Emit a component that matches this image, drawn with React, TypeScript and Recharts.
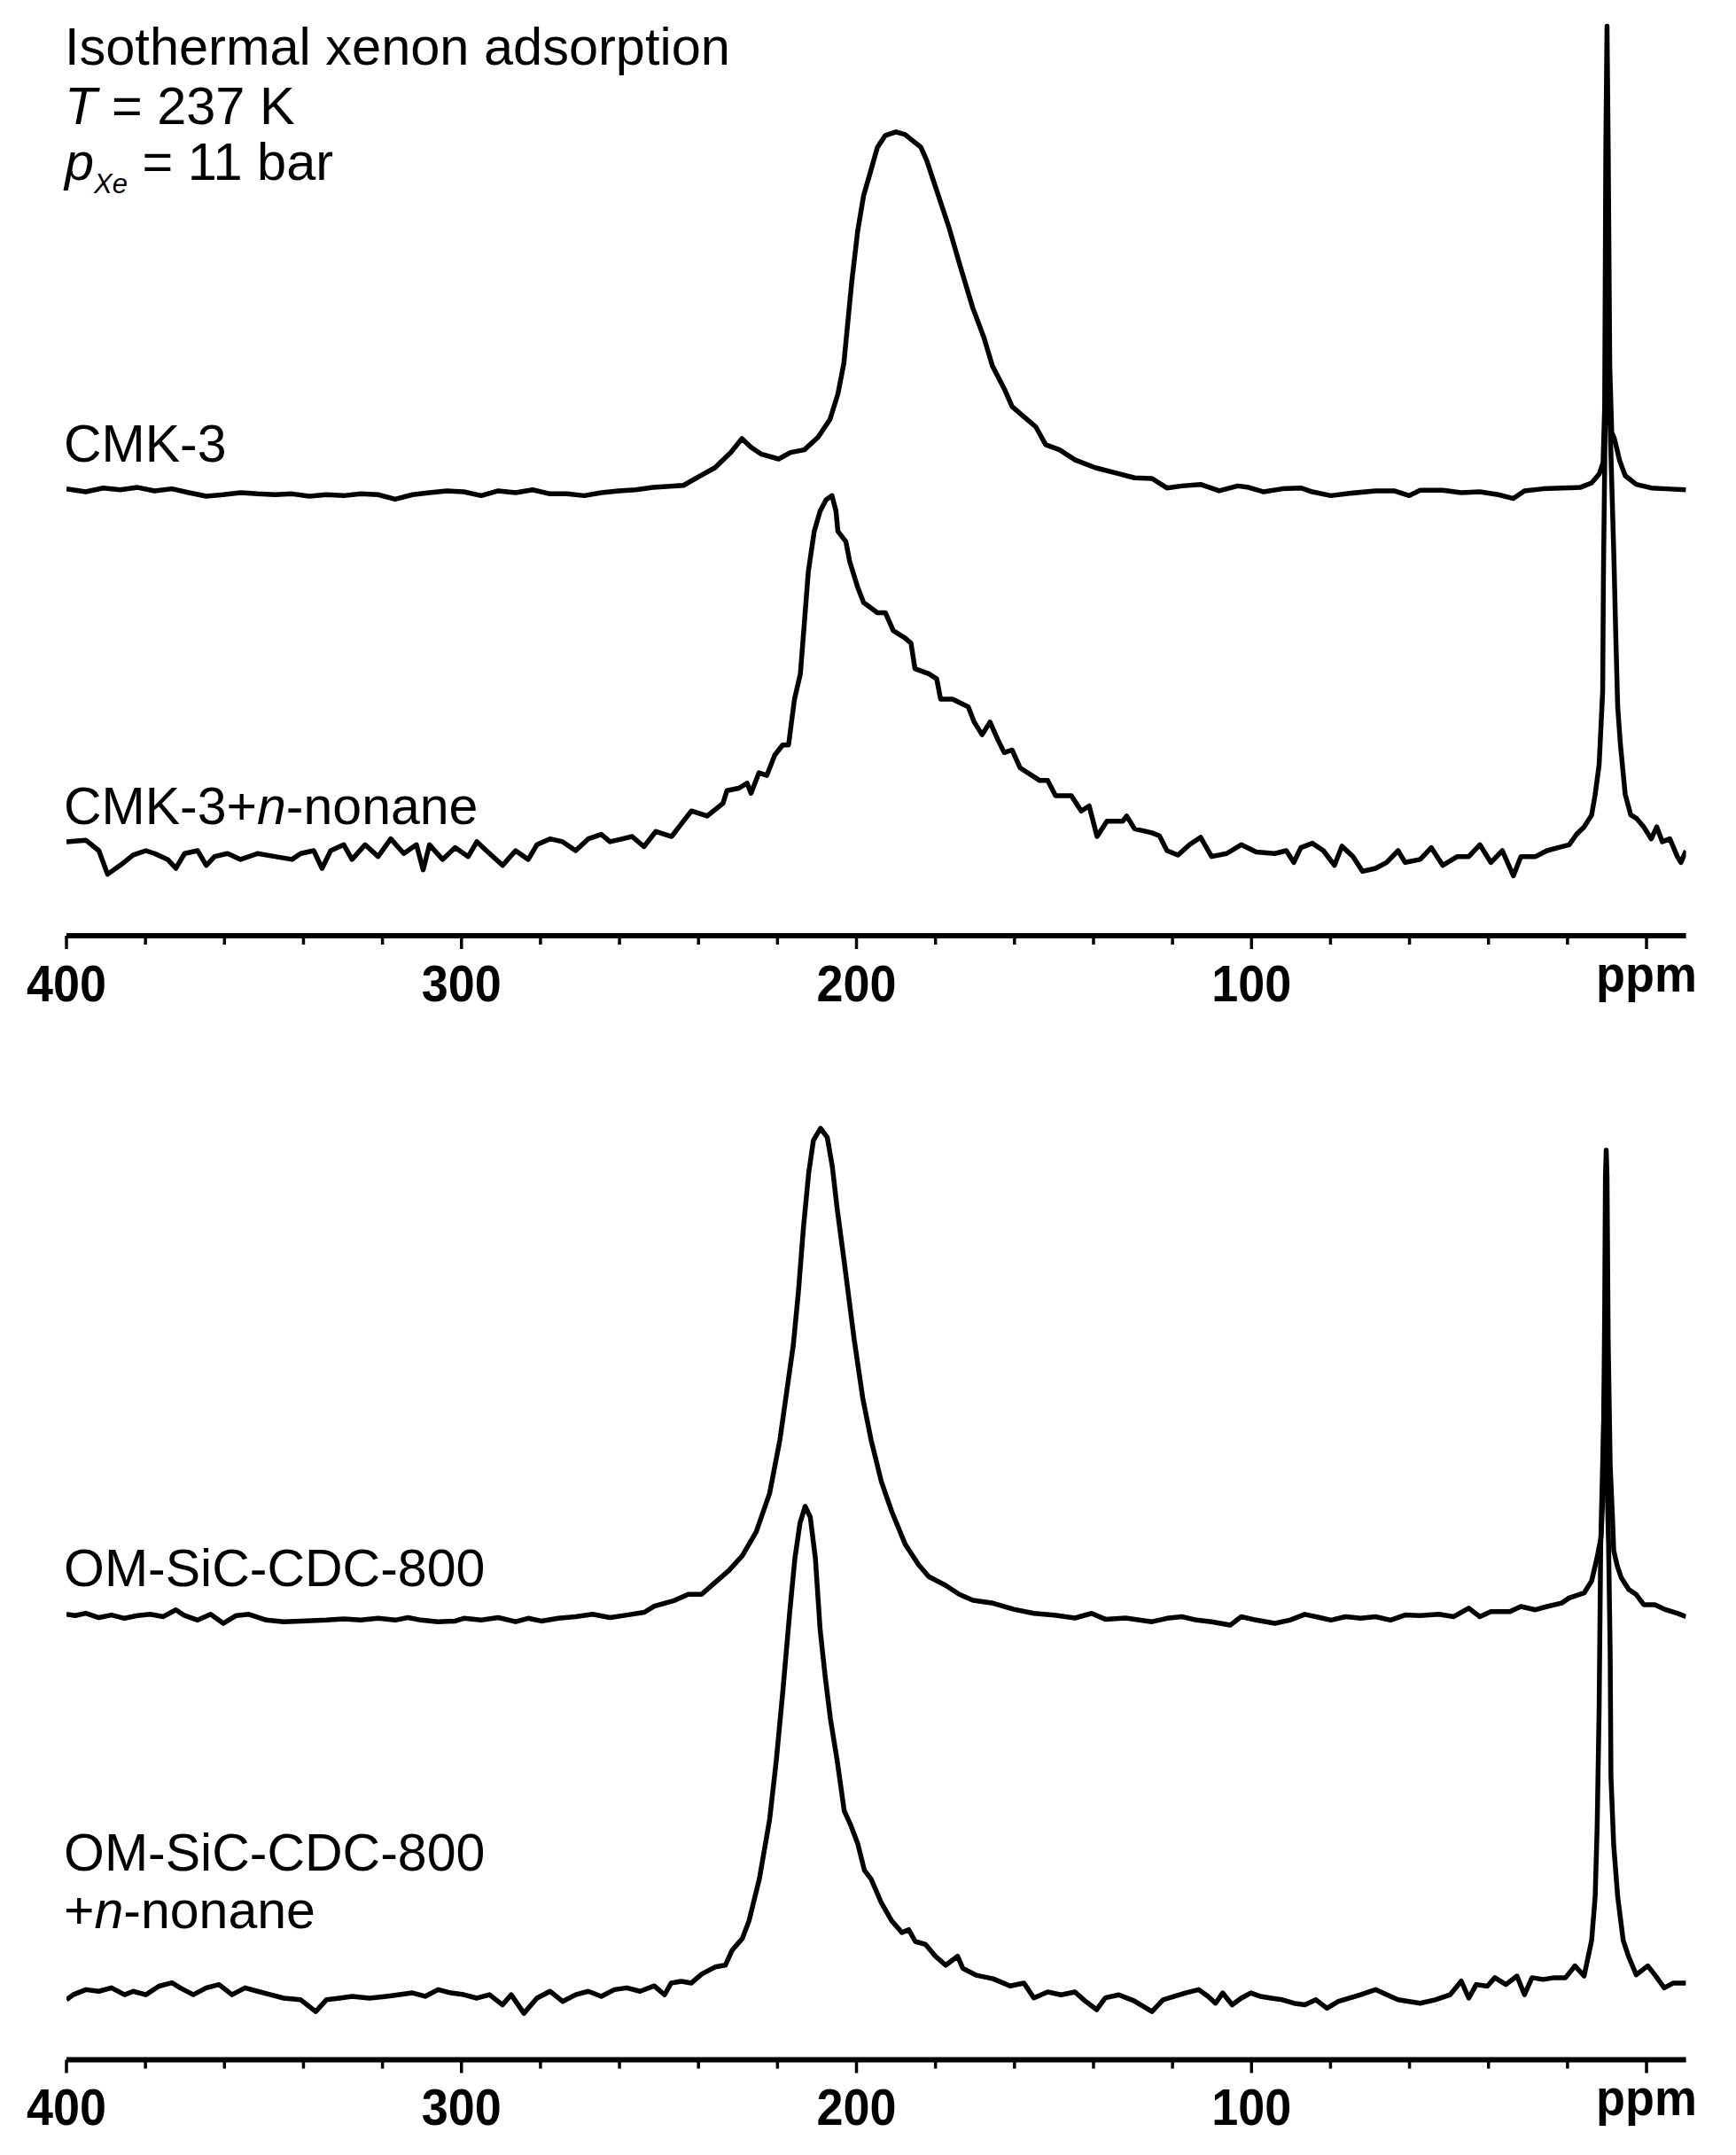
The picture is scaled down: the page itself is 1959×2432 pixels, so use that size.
import React from "react";
import { LineChart, Line, XAxis, YAxis } from "recharts";

// chemical shift (ppm) and intensity above each trace's own baseline
const CMK3: [number, number][] = [
  [400, 0.9], [395.1, -1.3], [390.7, 1.5], [386.4, 0.2], [382.0, 1.9], [377.7, -0.6], [373.3, 0.9], [369.0, -1.9],
  [364.6, -4.5], [360.3, -3.4], [355.9, -1.9], [351.6, -2.8], [347.2, -3.4], [342.9, -2.8], [338.5, -4.5], [334.2, -3.4],
  [329.8, -4.1], [325.5, -2.8], [321.1, -3.4], [316.8, -6.7], [312.4, -3.4], [308.1, -1.9], [303.7, -0.6], [299.4, -1.3],
  [295.0, -4.1], [290.7, -0.6], [286.3, -1.9], [282.0, 0.2], [277.6, -2.8], [273.3, -2.8], [268.9, -4.1], [264.6, -1.9],
  [260.2, -0.6], [255.9, 0.2], [251.5, 1.9], [243.8, 3.4], [239.8, 10.0], [235.8, 16.3], [231.8, 27.4], [229.0, 37.5],
  [226.7, 31.2], [224.2, 26.3], [219.7, 22.6], [216.7, 27.4], [213.2, 29.3], [209.7, 38.6], [206.7, 51.5], [204.7, 70.1],
  [203.2, 92.3], [202.2, 122.0], [201.2, 151.6], [199.7, 188.7], [198.2, 214.6], [196.7, 229.5], [194.7, 249.8],
  [192.7, 258.4], [190.0, 261.0], [187.7, 259.1], [183.7, 249.8], [182.2, 240], [179.7, 218.3], [176.7, 192.4],
  [173.7, 162.7], [170.6, 133.1], [167.7, 110.8], [165.6, 90.5], [162.6, 73.8], [160.6, 60.8], [157.6, 53.4],
  [154.6, 46.0], [152.1, 33.0], [148.6, 29.3], [144.6, 21.9], [139.6, 16.3], [133.6, 11.9], [129.6, 8.9],
  [125.2, 8.4], [121.4, 1.5], [117.6, 3.0], [112.9, 4.1], [108.2, -0.6], [103.5, 3.0], [100.7, 1.9], [96.9, -1.3],
  [92.2, 0.9], [87.5, 1.5], [84.6, -1.3], [79.9, -4.1], [75.2, -2.4], [68.6, -0.6], [63.9, -0.6], [60.1, -4.1],
  [57.3, -0.2], [51.6, -0.2], [46.9, -1.9], [42.2, -1.3], [37.5, -3.4], [33.7, -6.2], [30.9, -0.6], [26.2, 0.9],
  [21.5, 1.5], [16.8, 1.9], [13.9, 5.2], [12.0, 11.6], [11.0, 20], [10.6, 60], [10.3, 250], [10.0, 338], [9.7, 250],
  [9.3, 90], [8.8, 42], [8.2, 38], [7.5, 30], [6.8, 21.3], [5.4, 10.5], [2.6, 4.1], [-1.2, 1.5], [-4.9, 0.9], [-10, 0.2],
];

const CMK3_NONANE: [number, number][] = [
  [400, 8.4], [395.1, 9.5], [391.8, 1.9], [389.6, -15.3], [386.4, -8.8], [383.1, -1.3], [379.9, 1.9], [377.7, -0.2],
  [374.4, -4.5], [372.3, -11.0], [370.1, -0.2], [366.8, 1.9], [364.6, -8.8], [362.5, -2.4], [359.2, -0.2], [355.9, -4.5],
  [351.6, -0.2], [347.2, -2.4], [342.9, -4.5], [340.7, -0.2], [337.4, 1.9], [335.3, -11.0], [333.1, 1.9], [329.8, 6.2],
  [327.7, -4.5], [324.4, 6.2], [321.1, -2.4], [317.9, 10.5], [314.6, -0.2], [311.4, 6.2], [309.7, -12.1], [308.1, 6.2],
  [304.8, -4.5], [301.6, 4.1], [298.3, -2.4], [296.1, 8.4], [292.9, -0.2], [289.6, -8.8], [286.3, 1.9], [283.1, -4.5],
  [280.9, 6.2], [277.6, 10.5], [274.4, 8.4], [271.1, 1.9], [267.9, 10.5], [264.6, 13.8], [262.4, 8.4], [259.2, 10.5],
  [256.8, 12.2], [253.8, 4.8], [250.8, 15.9], [246.8, 12.2], [243.8, 23.4], [241.8, 30.8], [237.8, 27.1], [233.8, 36.3],
  [232.8, 45.6], [229.8, 47.4], [227.7, 51.1], [226.7, 43.7], [224.7, 58.6], [222.7, 56.7], [220.7, 71.5], [218.7, 78.9],
  [217.2, 78.9], [215.7, 112.3], [214.2, 130.8], [213.2, 167.9], [212.2, 205.0], [210.7, 234.6], [209.2, 249.4],
  [207.7, 257.6], [206.2, 260.6], [205.2, 249.4], [204.7, 234.6], [202.7, 227.2], [201.7, 212.4], [199.7, 193.8],
  [198.2, 182.7], [194.7, 175.3], [192.7, 175.3], [190.7, 162.3], [187.7, 156.8], [186.2, 153.1], [185.2, 134.5],
  [181.7, 130.8], [179.7, 127.1], [178.7, 112.3], [175.7, 112.3], [171.7, 106.7], [170.2, 95.6], [168.2, 86.4],
  [166.2, 95.6], [164.2, 82.7], [162.6, 73.4], [160.6, 75.2], [158.6, 62.3], [153.6, 53.0], [151.6, 53.0], [149.6, 41.9],
  [145.6, 41.9], [143.1, 30.8], [141.1, 34.5], [139.1, 12.2], [136.6, 23.4], [132.6, 23.4], [131.6, 27.1], [129.6, 17.8],
  [125.2, 14.9], [123.3, 12.7], [121.4, 1.9], [118.6, -1.3], [115.7, 6.2], [112.9, 11.6], [110.1, -2.4], [106.3, -0.2],
  [102.6, 6.2], [98.8, 0.9], [94.1, -0.2], [91.2, 1.9], [89.3, -6.7], [87.5, 4.1], [84.6, 7.3], [81.8, 1.9], [79.0, -8.8],
  [77.1, 5.2], [74.3, -2.4], [71.9, -13.1], [68.6, -11.0], [65.8, -6.7], [62.9, 1.9], [61.1, -6.7], [57.3, -4.5],
  [54.5, 4.1], [51.6, -8.8], [47.9, -2.4], [45.0, -2.4], [42.2, 6.2], [39.4, -6.7], [36.5, 1.9], [33.7, -16.4],
  [31.8, -2.4], [28.1, -2.4], [25.2, 1.9], [22.4, 4.1], [19.6, 6.2], [17.7, 13.8], [15.8, 19.2], [13.9, 27.8],
  [13.0, 42.8], [12.0, 64.4], [11.1, 118], [10.9, 204], [10.4, 330], [9.9, 400], [9.3, 320], [8.25, 215], [7.8, 161],
  [7.3, 107], [6.6, 79], [5.4, 43], [4.0, 28], [2.6, 25.6], [0.7, 19.2], [-1.2, 10.5], [-2.6, 19.2], [-4.0, 8.4],
  [-5.9, 10.5], [-7.8, -2.4], [-8.7, -6.7], [-10, 1.9],
];

const OM_CDC: [number, number][] = [
  [400, 0.8], [397.8, -0.1], [395.1, 1.6], [391.8, -1.6], [388.6, 0.3], [385.3, -2.1], [382.0, -0.1], [378.8, 0.8],
  [375.5, -0.9], [372.3, 4.1], [370.1, -0.1], [366.8, -3.4], [363.5, 0.8], [360.3, -5.8], [357.0, -0.1], [353.8, 0.8],
  [349.4, -3.4], [345.0, -4.6], [340.7, -4.1], [334.2, -3.4], [329.8, -2.6], [325.5, -3.4], [321.1, -2.1], [316.8, -3.4],
  [313.5, -1.6], [310.3, -3.4], [305.9, -4.6], [301.6, -4.1], [299.4, -2.1], [295.0, -3.4], [290.7, -1.6], [286.3, -4.6],
  [283.1, -2.1], [279.8, -4.1], [275.5, -2.1], [271.1, -0.9], [266.8, 0.8], [262.4, -1.6], [258.1, 0.3], [253.7, 2.3],
  [251.2, 6.7], [246.0, 11.0], [242.6, 15.4], [239.2, 15.4], [235.8, 24.0], [232.3, 32.7], [228.9, 43.5], [225.4, 60.8],
  [222.0, 88.9], [219.4, 127.8], [217.7, 162.4], [216.0, 197.0], [214.7, 235.9], [213.4, 283.5], [212.1, 322.4],
  [210.9, 346.2], [209.1, 354.9], [207.4, 348.4], [206.1, 326.8], [204.9, 296.5], [203.1, 257.6], [200.6, 201.4],
  [198.4, 158.1], [196.3, 127.8], [193.7, 97.5], [191.1, 75.9], [187.7, 52.1], [184.3, 37.0], [181.7, 28.3],
  [177.4, 21.8], [174.0, 15.4], [170.5, 11.0], [165.4, 8.9], [160.2, 4.5], [155.1, 1.5], [149.9, 0.2], [144.7, -1.9],
  [140.5, 1.5], [137.0, -2.8], [131.9, -1.9], [125.2, -4.6], [121.4, -2.1], [117.6, -0.9], [113.9, -3.4], [110.1, -4.6],
  [105.4, -7.1], [102.6, -0.9], [98.8, -3.4], [94.1, -5.8], [90.3, -3.4], [86.5, 0.8], [82.7, -1.6], [79.9, -3.4],
  [76.2, -0.9], [72.4, -2.1], [68.6, -0.9], [64.8, -3.4], [61.1, 0.3], [57.3, -0.1], [52.6, 0.8], [48.8, -0.9],
  [45.0, 5.3], [42.2, -0.9], [39.4, 2.8], [34.6, 2.8], [31.8, 6.5], [28.1, 4.1], [25.2, 6.5], [21.5, 9.0], [19.6, 12.7],
  [15.8, 16.4], [13.9, 25.0], [12.5, 42.4], [11.5, 57.2], [11.0, 90], [10.6, 220], [10.4, 320], [10.2, 339],
  [10.0, 320], [9.7, 200], [9.2, 110], [8.6, 70], [8.3, 47.3], [7.4, 36], [6.4, 27.5], [4.5, 18.9], [2.6, 15.2],
  [0.7, 7.8], [-2.1, 7.8], [-4.9, 4.1], [-7.8, 1.6], [-10, -0.9],
];

const OM_CDC_NONANE: [number, number][] = [
  [400, -1.2], [398.3, 2.5], [395.1, 6.2], [391.8, 5.0], [388.6, 7.5], [385.3, 2.5], [383.1, 5.0], [379.9, 2.5],
  [376.6, 8.7], [373.3, 11.2], [371.2, 7.5], [367.9, 2.5], [364.6, 7.5], [361.4, 9.9], [358.1, 2.5], [354.8, 7.5],
  [351.6, 5.0], [348.3, 2.5], [345.0, 0.0], [340.7, -1.2], [336.9, -9.8], [334.2, -1.2], [330.9, 0.0], [327.7, 1.3],
  [323.3, 0.0], [319.0, 1.3], [315.7, 2.5], [312.4, 3.8], [309.2, 1.3], [305.9, 6.2], [302.7, 3.8], [299.4, 2.5],
  [296.1, 0.0], [292.9, 2.5], [289.6, -4.9], [287.4, 2.5], [284.2, -11.1], [280.9, 0.0], [277.6, 5.0], [274.4, -2.4],
  [271.1, 2.5], [267.9, 5.0], [264.6, 1.3], [261.3, 6.2], [258.1, 7.5], [254.8, 5.0], [251.2, 8.9], [248.6, 2.4],
  [246.9, 11.0], [244.3, 12.3], [241.8, 11.0], [239.2, 17.5], [235.8, 22.7], [233.2, 24.0], [231.5, 34.8],
  [228.9, 43.5], [227.2, 56.4], [224.6, 86.7], [222.0, 130.0], [220.3, 173.3], [218.6, 225.1], [216.9, 281.4],
  [215.6, 320.3], [214.3, 346.2], [213.0, 358.4], [211.7, 350.6], [210.4, 320.3], [209.2, 268.4], [207.9, 233.8],
  [206.6, 203.5], [204.9, 173.3], [203.1, 136.5], [201.4, 125.6], [199.7, 112.7], [198.0, 93.2], [196.3, 86.7],
  [193.7, 69.4], [191.1, 56.4], [188.5, 47.8], [186.8, 49.9], [185.1, 41.3], [182.5, 39.1], [180.0, 30.5],
  [177.4, 24.0], [174.4, 30.5], [173.1, 21.8], [169.7, 16.7], [165.4, 14.1], [161.1, 8.9], [157.6, 11.0],
  [155.1, 0.2], [151.6, 4.5], [148.2, 2.4], [144.7, 4.5], [142.2, -1.9], [139.2, -8.4], [137.0, 0.2], [133.6, 2.4],
  [129.8, -1.9], [125.2, -9.8], [122.4, -1.2], [119.5, 1.3], [116.7, 3.8], [113.4, 6.2], [111.0, 1.3], [109.1, -3.7],
  [107.3, 3.8], [104.9, -4.9], [102.6, 0.0], [100.2, 3.8], [97.8, 1.3], [95.0, 0.0], [92.2, -1.2], [89.3, -3.7],
  [86.5, -4.9], [83.7, -1.2], [80.9, -7.4], [78.0, -2.4], [75.2, 0.0], [72.4, 2.5], [68.6, 6.2], [65.8, 2.5],
  [62.9, -1.2], [60.1, -2.4], [57.3, -3.7], [53.5, -1.2], [49.7, 2.5], [46.9, 12.4], [45.0, 0.0], [43.1, 9.9],
  [40.3, 8.7], [38.4, 14.9], [35.6, 9.9], [32.8, 16.1], [30.9, 2.5], [29.0, 14.9], [26.2, 13.6], [23.3, 14.9],
  [20.5, 14.9], [18.1, 23.5], [15.8, 16.1], [13.9, 42], [13.0, 74], [12.5, 124], [12.0, 210], [11.6, 330],
  [10.6, 450], [9.6, 330], [9.2, 252], [9.0, 161], [8.3, 111], [7.3, 74], [5.9, 42], [4.5, 30], [2.6, 17],
  [-0.3, 23.5], [-2.1, 17], [-4.5, 7.5], [-6.8, 11], [-10, 11],
];

// vertical stacking offsets of the traces
const OFFSETS = { cmk3: 324.8, cmk3Nonane: 60.1, om: 323.8, omNonane: 44.9 };

const TICKS = [400, 380, 360, 340, 320, 300, 280, 260, 240, 220, 200, 180, 160, 140, 120, 100, 80, 60, 40, 20, 0];
const TICK_LABELS: Record<number, string> = { 400: "400", 300: "300", 200: "200", 100: "100", 0: "ppm" };

const FONT = "'Liberation Sans', Arial, Helvetica, sans-serif";
const UNIT = 1.5486; // px per intensity unit
const W = 1959;

const toRows = (pts: [number, number][], off: number) => pts.map(([ppm, v]) => ({ ppm, v: v + off }));

function PpmTick(props: any) {
  const { x, y, payload } = props;
  const v = payload.value as number;
  const major = v % 100 === 0;
  const label = TICK_LABELS[v];
  return (
    <g>
      <line x1={x} x2={x} y1={y} y2={y + (major ? 15 : 10)} stroke="#000" strokeWidth={3.5} />
      {label && (
        <text
          x={x}
          y={y + (v === 0 ? 63 : 74)}
          textAnchor="middle"
          fontFamily={FONT}
          fontSize={58}
          fontWeight={700}
          fill="#000"
          transform={`translate(${x} 0) scale(0.93 1) translate(${-x} 0)`}
        >
          {label}
        </text>
      )}
    </g>
  );
}

function Panel({
  top,
  height,
  plotH,
  series,
}: {
  top: number;
  height: number;
  plotH: number;
  series: { name: string; rows: { ppm: number; v: number }[] }[];
}) {
  return (
    <div style={{ position: "absolute", left: 0, top }}>
      <LineChart width={W} height={height} margin={{ top: 0, right: 56.4, bottom: 0, left: 75 }}>
        <XAxis
          dataKey="ppm"
          type="number"
          domain={[-10, 400]}
          reversed
          ticks={TICKS}
          interval={0}
          allowDataOverflow
          height={height - plotH}
          tickSize={0}
          tickMargin={0}
          tickLine={false}
          axisLine={{ stroke: "#000", strokeWidth: 6 }}
          tick={<PpmTick />}
        />
        <YAxis type="number" domain={[0, plotH / UNIT]} hide allowDataOverflow />
        {series.map((s) => (
          <Line
            key={s.name}
            data={s.rows}
            dataKey="v"
            type="linear"
            stroke="#000"
            strokeWidth={5.5}
            strokeLinejoin="round"
            dot={false}
            activeDot={false}
            isAnimationActive={false}
          />
        ))}
      </LineChart>
    </div>
  );
}

export default function App() {
  const txt = { fontFamily: FONT, fontSize: 59, fill: "#000" };
  return (
    <div style={{ position: "absolute", left: 0, top: 0, width: W, height: 2432, background: "#fff" }}>
      <Panel
        top={0}
        height={1200}
        plotH={1056}
        series={[
          { name: "CMK-3", rows: toRows(CMK3, OFFSETS.cmk3) },
          { name: "CMK-3+n-nonane", rows: toRows(CMK3_NONANE, OFFSETS.cmk3Nonane) },
        ]}
      />
      <Panel
        top={1160}
        height={1272}
        plotH={1164.5}
        series={[
          { name: "OM-SiC-CDC-800", rows: toRows(OM_CDC, OFFSETS.om) },
          { name: "OM-SiC-CDC-800+n-nonane", rows: toRows(OM_CDC_NONANE, OFFSETS.omNonane) },
        ]}
      />
      <svg
        width={W}
        height={2432}
        style={{ position: "absolute", left: 0, top: 0, pointerEvents: "none" }}
      >
        <text x={73} y={73} {...txt} fontSize={59.5}>
          Isothermal xenon adsorption
        </text>
        <text x={73} y={140} {...txt} fontSize={59.5}>
          <tspan fontStyle="italic">T</tspan> = 237 K
        </text>
        <text x={73} y={203} {...txt} fontSize={59.5}>
          <tspan fontStyle="italic">p</tspan>
          <tspan fontStyle="italic" fontSize={31} dy={15}>Xe</tspan>
          <tspan dy={-15}> = 11 bar</tspan>
        </text>
        <text x={72} y={521} {...txt}>CMK-3</text>
        <text x={72} y={930} {...txt}>
          CMK-3+<tspan fontStyle="italic">n</tspan>-nonane
        </text>
        <text x={72} y={1790} {...txt}>OM-SiC-CDC-800</text>
        <text x={72} y={2111} {...txt}>OM-SiC-CDC-800</text>
        <text x={72} y={2176} {...txt}>
          +<tspan fontStyle="italic">n</tspan>-nonane
        </text>
      </svg>
    </div>
  );
}
